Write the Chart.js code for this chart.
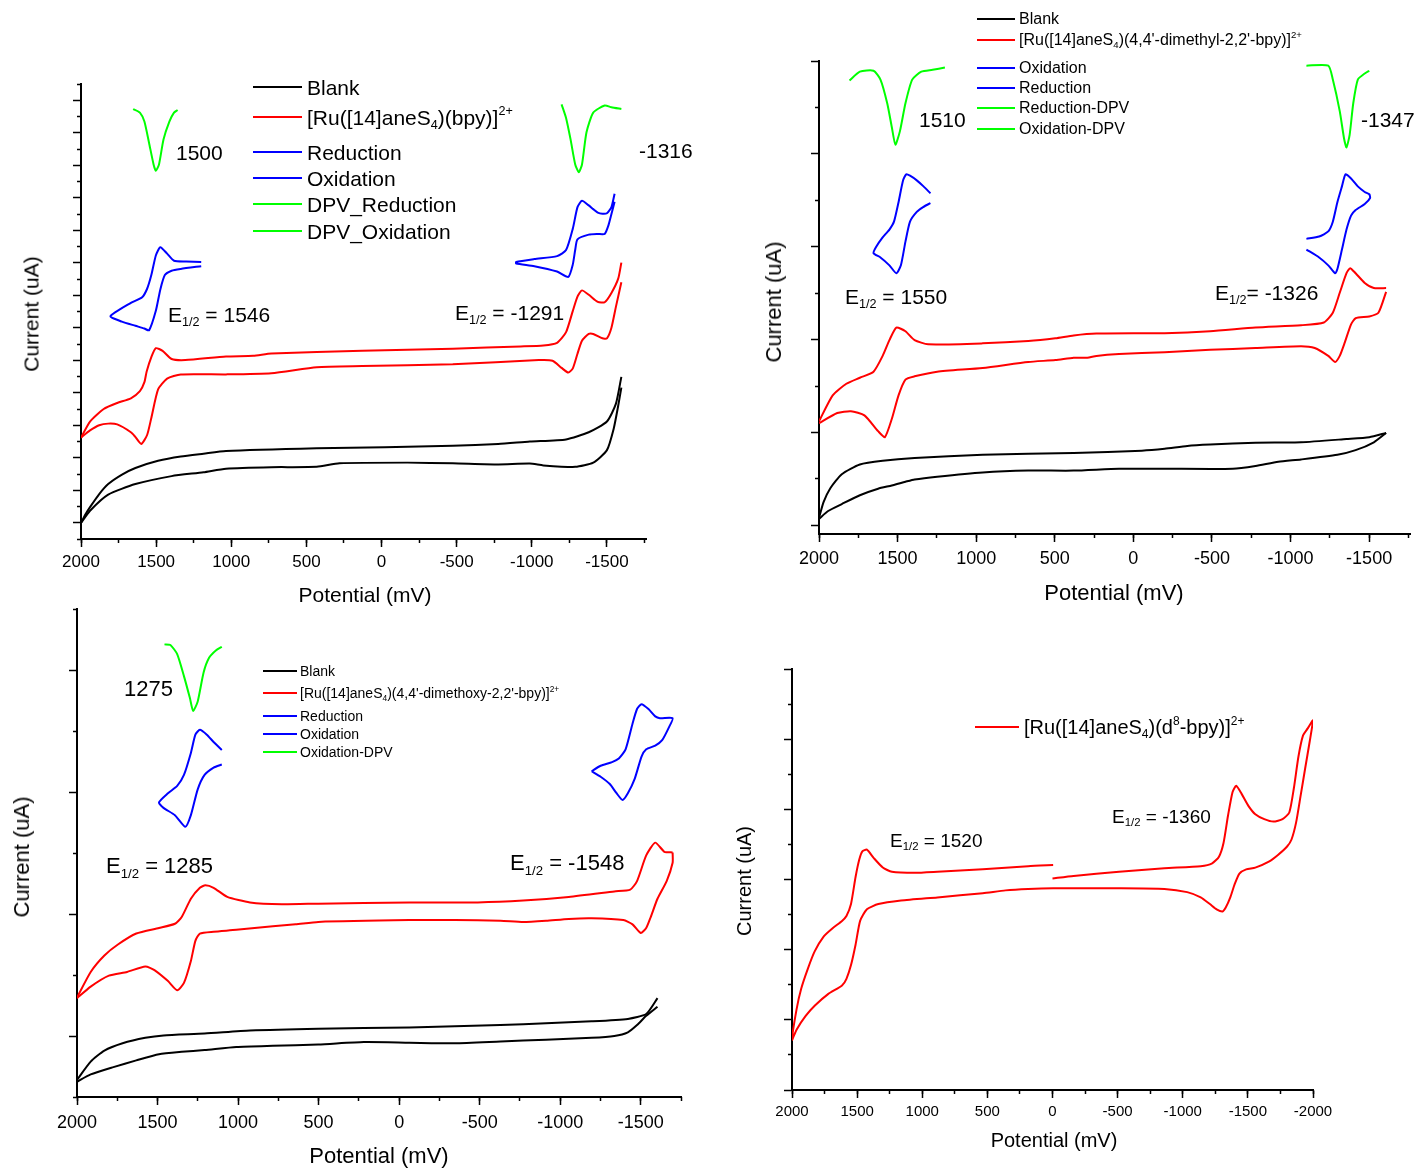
<!DOCTYPE html>
<html>
<head>
<meta charset="utf-8">
<title>Cyclic voltammograms</title>
<script src="https://cdn.jsdelivr.net/npm/chart.js@4.4.1/dist/chart.umd.min.js"></script>
<style>
  html, body { margin: 0; padding: 0; background: #fff; }
  body { width: 1420px; height: 1169px; position: relative; overflow: hidden;
         font-family: "Liberation Sans", Arial, sans-serif; color: #000; }
  canvas { position: absolute; }
  .t { position: absolute; white-space: nowrap; line-height: 1; transform: translateY(-50%); }
  .c { position: absolute; white-space: nowrap; line-height: 1; transform: translate(-50%, -50%); }
  .r { position: absolute; white-space: nowrap; line-height: 1; transform: translate(-50%, -50%) rotate(-90deg); }
  .ln { position: absolute; height: 0; border-top: 2.5px solid #000; transform: translateY(-50%); }
  sub, sup { font-size: 0.6em; line-height: 0; }
  sub { vertical-align: -0.35em; }
  sup { vertical-align: 0.75em; }
</style>
</head>
<body>
<canvas id="cvA"></canvas>
<canvas id="cvB"></canvas>
<canvas id="cvC"></canvas>
<canvas id="cvD"></canvas>

<!-- panel A texts -->
<div class="ln" style="left:253px;top:87px;width:49px;border-color:#000"></div>
<div class="ln" style="left:253px;top:117px;width:49px;border-color:#f00"></div>
<div class="ln" style="left:253px;top:152px;width:49px;border-color:#00f"></div>
<div class="ln" style="left:253px;top:178px;width:49px;border-color:#00f"></div>
<div class="ln" style="left:253px;top:204px;width:49px;border-color:#0f0"></div>
<div class="ln" style="left:253px;top:231px;width:49px;border-color:#0f0"></div>
<div class="t" style="left:307px;top:87px;font-size:21px">Blank</div>
<div class="t" style="left:307px;top:117px;font-size:21px">[Ru([14]aneS<sub>4</sub>)(bpy)]<sup>2+</sup></div>
<div class="t" style="left:307px;top:152px;font-size:21px">Reduction</div>
<div class="t" style="left:307px;top:178px;font-size:21px">Oxidation</div>
<div class="t" style="left:307px;top:204px;font-size:21px">DPV_Reduction</div>
<div class="t" style="left:307px;top:231px;font-size:21px">DPV_Oxidation</div>
<div class="t" style="left:176px;top:152px;font-size:21px">1500</div>
<div class="t" style="left:639px;top:150px;font-size:21px">-1316</div>
<div class="t" style="left:168px;top:314px;font-size:21px">E<sub>1/2</sub> = 1546</div>
<div class="t" style="left:455px;top:312px;font-size:21px">E<sub>1/2</sub> = -1291</div>
<div class="r" style="left:31px;top:314px;font-size:21px">Current (uA)</div>
<div class="c" style="left:365px;top:594px;font-size:21px">Potential (mV)</div>

<!-- panel B texts -->
<div class="ln" style="left:977px;top:19px;width:38px;border-width:2px;border-color:#000"></div>
<div class="ln" style="left:977px;top:40px;width:38px;border-width:2px;border-color:#f00"></div>
<div class="ln" style="left:977px;top:68px;width:38px;border-width:2px;border-color:#00f"></div>
<div class="ln" style="left:977px;top:88px;width:38px;border-width:2px;border-color:#00f"></div>
<div class="ln" style="left:977px;top:108px;width:38px;border-width:2px;border-color:#0f0"></div>
<div class="ln" style="left:977px;top:129px;width:38px;border-width:2px;border-color:#0f0"></div>
<div class="t" style="left:1019px;top:19px;font-size:16px">Blank</div>
<div class="t" style="left:1019px;top:40px;font-size:16px">[Ru([14]aneS<sub>4</sub>)(4,4'-dimethyl-2,2'-bpy)]<sup>2+</sup></div>
<div class="t" style="left:1019px;top:68px;font-size:16px">Oxidation</div>
<div class="t" style="left:1019px;top:88px;font-size:16px">Reduction</div>
<div class="t" style="left:1019px;top:108px;font-size:16px">Reduction-DPV</div>
<div class="t" style="left:1019px;top:129px;font-size:16px">Oxidation-DPV</div>
<div class="t" style="left:919px;top:119px;font-size:21px">1510</div>
<div class="t" style="left:1361px;top:119px;font-size:21px">-1347</div>
<div class="t" style="left:845px;top:296px;font-size:21px">E<sub>1/2</sub> = 1550</div>
<div class="t" style="left:1215px;top:292px;font-size:21px">E<sub>1/2</sub>= -1326</div>
<div class="r" style="left:774px;top:302px;font-size:22px">Current (uA)</div>
<div class="c" style="left:1114px;top:593px;font-size:22px">Potential (mV)</div>

<!-- panel C texts -->
<div class="ln" style="left:263px;top:671px;width:34px;border-width:2px;border-color:#000"></div>
<div class="ln" style="left:263px;top:693px;width:34px;border-width:2px;border-color:#f00"></div>
<div class="ln" style="left:263px;top:716px;width:34px;border-width:2px;border-color:#00f"></div>
<div class="ln" style="left:263px;top:734px;width:34px;border-width:2px;border-color:#00f"></div>
<div class="ln" style="left:263px;top:752px;width:34px;border-width:2px;border-color:#0f0"></div>
<div class="t" style="left:300px;top:671px;font-size:14px">Blank</div>
<div class="t" style="left:300px;top:693px;font-size:14px">[Ru([14]aneS<sub>4</sub>)(4,4'-dimethoxy-2,2'-bpy)]<sup>2+</sup></div>
<div class="t" style="left:300px;top:716px;font-size:14px">Reduction</div>
<div class="t" style="left:300px;top:734px;font-size:14px">Oxidation</div>
<div class="t" style="left:300px;top:752px;font-size:14px">Oxidation-DPV</div>
<div class="t" style="left:124px;top:689px;font-size:22px">1275</div>
<div class="t" style="left:106px;top:866px;font-size:22px">E<sub>1/2</sub> = 1285</div>
<div class="t" style="left:510px;top:863px;font-size:22px">E<sub>1/2</sub> = -1548</div>
<div class="r" style="left:22px;top:857px;font-size:22px">Current (uA)</div>
<div class="c" style="left:379px;top:1156px;font-size:22px">Potential (mV)</div>

<!-- panel D texts -->
<div class="ln" style="left:975px;top:727px;width:44px;border-color:#f00"></div>
<div class="t" style="left:1024px;top:727px;font-size:20px">[Ru([14]aneS<sub>4</sub>)(d<sup>8</sup>-bpy)]<sup>2+</sup></div>
<div class="t" style="left:890px;top:840px;font-size:19px">E<sub>1/2</sub> = 1520</div>
<div class="t" style="left:1112px;top:816px;font-size:19px">E<sub>1/2</sub> = -1360</div>
<div class="r" style="left:744px;top:881px;font-size:20px">Current (uA)</div>
<div class="c" style="left:1054px;top:1140px;font-size:20px">Potential (mV)</div>

<script>
// Four CV panels, potential axis reversed (2000 -> negative), current in tick units (no labels)

var FONT = '"Liberation Sans", Arial, sans-serif';
var BLACK = '#000000', RED = '#ff0000', BLUE = '#0000ff', GREEN = '#00ff00';

// x tick positions (mV)
var xMajorA = [2000, 1500, 1000, 500, 0, -500, -1000, -1500];
var xMinorA = [2000, 1750, 1500, 1250, 1000, 750, 500, 250, 0, -250, -500, -750, -1000, -1250, -1500, -1750];
var xMajorD = [2000, 1500, 1000, 500, 0, -500, -1000, -1500, -2000];
var xMinorD = [2000, 1750, 1500, 1250, 1000, 750, 500, 250, 0, -250, -500, -750, -1000, -1250, -1500, -1750, -2000];

// y tick positions (arbitrary current units)
var yMajorA = [1, 3, 5, 7, 9, 11, 13, 15, 17, 19, 21, 23, 25, 27];
var yMinorA = [0, 2, 4, 6, 8, 10, 12, 14, 16, 18, 20, 22, 24, 26, 28];
var yMajorB = [0, 2, 4, 6, 8, 10];
var yMinorB = [1, 3, 5, 7, 9];
var yMajorC = [1, 3, 5, 7];
var yMinorC = [0, 2, 4, 6, 8];
var yMajorD = [0, 2, 4, 6, 8, 10, 12];
var yMinorD = [1, 3, 5, 7, 9, 11];

// ---- panel A: [Ru([14]aneS4)(bpy)]2+ ----
var aBlankFwd = [[2000,0.99],[1970,1.52],[1940,1.96],[1880,2.75],[1819,3.38],[1730,3.95],[1638,4.37],[1487,4.81],[1336,5.08],[1185,5.25],[1035,5.41],[431,5.58],[-21,5.65],[-474,5.74],[-776,5.85],[-987,6.00],[-1228,6.13],[-1379,6.57],[-1500,7.23],[-1560,8.33],[-1596,9.98]];
var aBlankRev = [[-1596,9.32],[-1575,8.2],[-1545,6.79],[-1500,5.47],[-1409,4.70],[-1289,4.44],[-1077,4.53],[-987,4.64],[-776,4.59],[-474,4.66],[-172,4.70],[280,4.66],[431,4.44],[733,4.42],[1035,4.33],[1185,4.11],[1397,3.87],[1638,3.38],[1819,2.73],[1940,1.74],[2000,0.99]];
var aRedFwd = [[2000,6.24],[1940,7.23],[1849,8.0],[1759,8.37],[1668,8.66],[1608,9.10],[1578,9.65],[1563,10.31],[1532,11.19],[1502,11.74],[1457,11.58],[1397,11.08],[1306,11.01],[1035,11.23],[854,11.27],[733,11.41],[129,11.58],[-474,11.71],[-926,11.85],[-1077,11.91],[-1168,12.07],[-1228,12.73],[-1273,14.04],[-1304,14.92],[-1334,15.30],[-1379,15.03],[-1439,14.59],[-1485,14.57],[-1530,15.14],[-1575,16.02],[-1596,17.01]];
var aRedRev = [[-1596,15.80],[-1560,14.3],[-1530,13.0],[-1500,12.35],[-1470,12.35],[-1409,12.62],[-1379,12.62],[-1334,12.2],[-1304,11.4],[-1273,10.5],[-1243,10.24],[-1198,10.53],[-1138,10.97],[-1047,11.01],[-474,10.75],[129,10.64],[431,10.57],[733,10.20],[1035,10.13],[1336,10.13],[1427,9.87],[1487,9.21],[1532,7.45],[1560,6.4],[1599,5.85],[1640,6.3],[1668,6.57],[1759,7.05],[1819,7.1],[1879,7.0],[1940,6.68],[2000,6.24]];
var aOxid = [[1200,17.05],[1300,17.08],[1381,17.12],[1427,17.56],[1472,17.96],[1502,17.45],[1532,16.24],[1560,15.4],[1593,14.88],[1668,14.53],[1804,13.71],[1728,13.38],[1638,13.12],[1578,12.95],[1547,12.84],[1502,14.04],[1472,15.36],[1442,16.24],[1397,16.51],[1336,16.62],[1200,16.79]];
var aRedn = [[-1551,21.25],[-1530,20.42],[-1500,20.05],[-1470,20.02],[-1439,20.09],[-1409,20.3],[-1379,20.53],[-1334,20.81],[-1304,20.42],[-1273,19.10],[-1228,17.78],[-1168,17.41],[-1017,17.23],[-896,17.05],[-896,16.95],[-1017,16.79],[-1168,16.46],[-1243,16.13],[-1273,16.9],[-1289,17.8],[-1304,18.44],[-1379,18.73],[-1439,18.77],[-1485,18.77],[-1510,19.3],[-1530,20.0],[-1551,20.75]];
var aDpvOx = [[1653,26.46],[1608,26.24],[1578,25.69],[1547,24.37],[1517,23.05],[1502,22.66],[1481,23.05],[1451,24.59],[1412,25.69],[1381,26.24],[1357,26.40]];
var aDpvRed = [[-1198,26.75],[-1228,25.91],[-1258,24.59],[-1289,23.05],[-1313,22.57],[-1334,23.05],[-1364,25.03],[-1409,26.24],[-1485,26.68],[-1530,26.57],[-1596,26.46]];

// ---- panel B: 4,4'-dimethyl-bpy ----
var bBlankFwd = [[2000,0.16],[1971,0.50],[1928,0.80],[1855,1.10],[1740,1.31],[1595,1.39],[1392,1.45],[959,1.52],[380,1.56],[-54,1.61],[-199,1.65],[-343,1.71],[-488,1.74],[-777,1.78],[-1067,1.79],[-1356,1.86],[-1501,1.90],[-1608,1.99]];
var bBlankRev = [[-1608,1.99],[-1530,1.79],[-1414,1.62],[-1298,1.52],[-1067,1.42],[-922,1.37],[-777,1.28],[-633,1.22],[-199,1.22],[91,1.22],[380,1.18],[669,1.18],[959,1.14],[1248,1.05],[1392,0.99],[1450,0.94],[1537,0.86],[1624,0.79],[1740,0.65],[1855,0.46],[1942,0.31],[2000,0.14]];
var bRedFwd = [[2000,2.24],[1913,2.80],[1826,3.05],[1740,3.18],[1653,3.31],[1595,3.65],[1552,3.99],[1508,4.26],[1450,4.18],[1392,3.99],[1306,3.90],[959,3.92],[669,3.97],[496,4.03],[380,4.09],[235,4.13],[-199,4.14],[-488,4.18],[-777,4.26],[-1067,4.31],[-1212,4.37],[-1269,4.58],[-1313,5.01],[-1356,5.43],[-1379,5.54],[-1414,5.43],[-1472,5.22],[-1530,5.11],[-1608,5.11]];
var bRedRev = [[-1608,5.03],[-1559,4.58],[-1501,4.50],[-1414,4.46],[-1385,4.33],[-1341,3.90],[-1313,3.65],[-1284,3.52],[-1240,3.65],[-1154,3.82],[-1067,3.86],[-777,3.82],[-488,3.78],[-199,3.73],[91,3.69],[235,3.65],[293,3.61],[380,3.61],[496,3.56],[669,3.52],[959,3.39],[1248,3.31],[1392,3.21],[1450,3.14],[1494,2.80],[1537,2.29],[1581,1.90],[1624,2.03],[1711,2.37],[1797,2.46],[1884,2.42],[2000,2.20]];
var bOxid = [[1291,7.15],[1335,7.30],[1378,7.43],[1421,7.53],[1445,7.56],[1465,7.43],[1494,6.96],[1523,6.54],[1552,6.37],[1595,6.20],[1638,5.99],[1653,5.86],[1609,5.77],[1552,5.60],[1508,5.43],[1479,5.60],[1450,6.11],[1421,6.54],[1378,6.75],[1335,6.86],[1291,6.94]];
var bRedn = [[-1101,6.17],[-1182,6.22],[-1240,6.33],[-1269,6.54],[-1298,6.96],[-1327,7.30],[-1350,7.56],[-1385,7.47],[-1428,7.30],[-1472,7.18],[-1501,7.13],[-1506,7.05],[-1472,6.92],[-1414,6.79],[-1385,6.67],[-1356,6.37],[-1327,5.94],[-1298,5.52],[-1284,5.43],[-1240,5.60],[-1182,5.77],[-1101,5.94]];
var bDpvRed = [[1806,9.58],[1740,9.77],[1653,9.79],[1609,9.60],[1566,9.09],[1537,8.58],[1514,8.20],[1485,8.49],[1450,9.09],[1407,9.60],[1349,9.77],[1277,9.81],[1199,9.86]];
var bDpvOx = [[-1101,9.90],[-1240,9.90],[-1269,9.60],[-1313,8.92],[-1341,8.32],[-1356,8.14],[-1376,8.41],[-1399,9.09],[-1428,9.60],[-1472,9.73],[-1501,9.79]];

// ---- panel C: 4,4'-dimethoxy-bpy ----
var cBlankFwd = [[2000,0.28],[1915,0.58],[1830,0.76],[1717,0.88],[1576,0.97],[1463,1.01],[1208,1.04],[926,1.09],[502,1.12],[-64,1.14],[-629,1.18],[-912,1.21],[-1195,1.24],[-1420,1.28],[-1534,1.36],[-1604,1.62]];
var cBlankRev = [[-1604,1.48],[-1534,1.33],[-1477,1.18],[-1420,1.06],[-1336,1.00],[-1195,0.97],[-912,0.94],[-629,0.91],[-346,0.88],[-64,0.89],[219,0.90],[502,0.86],[784,0.84],[1011,0.82],[1208,0.77],[1350,0.74],[1491,0.70],[1632,0.60],[1774,0.49],[1915,0.37],[2000,0.25]];
var cRedFwd = [[2000,1.63],[1915,2.05],[1830,2.32],[1746,2.50],[1632,2.68],[1491,2.77],[1392,2.84],[1350,2.95],[1293,3.25],[1237,3.43],[1203,3.47],[1152,3.43],[1067,3.28],[926,3.19],[728,3.16],[502,3.17],[-64,3.19],[-488,3.19],[-770,3.22],[-1053,3.28],[-1336,3.37],[-1435,3.40],[-1477,3.54],[-1534,3.96],[-1590,4.17],[-1647,4.02],[-1698,4.01]];
var cRedRev = [[-1698,4.01],[-1698,3.84],[-1661,3.54],[-1604,3.25],[-1562,2.95],[-1534,2.77],[-1500,2.69],[-1449,2.83],[-1392,2.90],[-1195,2.93],[-1053,2.92],[-912,2.89],[-770,2.87],[-629,2.89],[-346,2.90],[-64,2.90],[502,2.87],[643,2.83],[784,2.80],[1011,2.74],[1152,2.71],[1237,2.68],[1265,2.56],[1293,2.23],[1336,1.87],[1378,1.75],[1435,1.90],[1519,2.08],[1576,2.14],[1689,2.05],[1802,1.99],[1915,1.81],[2000,1.62]];
var cOxid = [[1101,5.69],[1152,5.82],[1194,5.94],[1237,6.02],[1265,5.94],[1293,5.64],[1336,5.28],[1378,5.10],[1435,4.98],[1491,4.83],[1463,4.74],[1392,4.62],[1327,4.43],[1293,4.62],[1251,5.04],[1208,5.28],[1152,5.40],[1101,5.45]];
var cRedn = [[-1195,5.34],[-1251,5.43],[-1322,5.49],[-1364,5.55],[-1406,5.70],[-1449,6.12],[-1477,6.36],[-1505,6.44],[-1548,6.36],[-1590,6.24],[-1619,6.21],[-1698,6.21],[-1675,6.06],[-1633,5.85],[-1590,5.76],[-1534,5.70],[-1505,5.58],[-1463,5.22],[-1420,4.98],[-1387,4.87],[-1350,4.98],[-1308,5.13],[-1251,5.25],[-1195,5.34]];
var cDpvOx = [[1457,7.42],[1420,7.41],[1378,7.26],[1336,6.90],[1299,6.54],[1279,6.33],[1251,6.48],[1214,6.96],[1180,7.20],[1138,7.32],[1101,7.38]];

// ---- panel D: d8-bpy, one continuous scan starting at 0 mV ----
var dRed = [[0,6.03],[-162,6.10],[-511,6.22],[-859,6.32],[-1138,6.38],[-1226,6.46],[-1278,6.65],[-1313,7.04],[-1347,7.81],[-1382,8.49],[-1410,8.67],[-1452,8.44],[-1504,8.10],[-1557,7.86],[-1626,7.72],[-1696,7.65],[-1766,7.72],[-1818,7.91],[-1853,8.6],[-1888,9.5],[-1923,10.1],[-1958,10.3],[-2000,10.54],
  [-1975,9.94],[-1940,9.17],[-1905,8.39],[-1870,7.62],[-1835,7.14],[-1801,6.94],[-1731,6.70],[-1661,6.51],[-1557,6.34],[-1487,6.29],[-1435,6.17],[-1400,5.88],[-1365,5.49],[-1330,5.20],[-1306,5.09],[-1260,5.15],[-1208,5.30],[-1138,5.49],[-1034,5.64],[-859,5.73],[-511,5.75],[-5,5.75],[187,5.73],[361,5.69],[535,5.61],[884,5.49],[1163,5.40],[1337,5.30],[1425,5.15],[1477,4.82],[1512,4.14],[1547,3.56],[1582,3.17],[1616,2.98],[1721,2.74],[1826,2.40],[1895,2.11],[1965,1.72],[2000,1.43],
  [1965,2.30],[1930,2.88],[1878,3.46],[1826,3.95],[1756,4.38],[1686,4.62],[1616,4.82],[1582,4.96],[1547,5.30],[1512,6.07],[1484,6.56],[1460,6.80],[1425,6.85],[1372,6.61],[1303,6.34],[1233,6.22],[1059,6.19],[884,6.22],[535,6.29],[187,6.38],[-5,6.41]];

(function () {
  function pts(arr) {
    return arr.map(function (p) { return { x: p[0], y: p[1] }; });
  }

  // one axis; the *minor* copies have zero size and sit next to the chart area
  function axis(pos, range, ticks, len, labels, size, fontSize, pad, weight) {
    return {
      type: 'linear',
      position: pos,
      min: range[0],
      max: range[1],
      reverse: pos === 'bottom',
      weight: weight,
      afterBuildTicks: function (s) {
        s.ticks = ticks.map(function (v) { return { value: v }; });
      },
      afterFit: function (s) {
        if (pos === 'bottom') s.height = size; else s.width = size;
      },
      ticks: {
        display: labels,
        autoSkip: false,
        maxRotation: 0,
        minRotation: 0,
        padding: pad,
        color: '#000',
        font: { family: FONT, size: fontSize },
        callback: function (v) { return String(v); }
      },
      grid: {
        display: true,
        drawOnChartArea: false,
        drawTicks: true,
        tickLength: len,
        tickWidth: 1.5,
        tickColor: '#000'
      },
      border: { display: weight === 1, color: '#000', width: 2 }
    };
  }

  function panel(p) {
    var PL = 50, PT = 12, PR = 30, PB = 50;
    var cv = document.getElementById(p.id);
    var w = p.box.r - p.box.l + PL + PR;
    var h = p.box.b - p.box.t + PT + PB;
    cv.width = w; cv.height = h;
    cv.style.width = w + 'px'; cv.style.height = h + 'px';
    cv.style.left = (p.box.l - PL) + 'px';
    cv.style.top = (p.box.t - PT) + 'px';

    new Chart(cv, {
      type: 'scatter',
      data: {
        datasets: p.series.map(function (s) {
          return {
            label: s.label,
            data: pts(s.data),
            borderColor: s.color,
            backgroundColor: s.color,
            borderWidth: 2,
            showLine: true,
            pointRadius: 0,
            tension: 0.2,
            xAxisID: 'x',
            yAxisID: 'y'
          };
        })
      },
      options: {
        responsive: false,
        animation: false,
        devicePixelRatio: 1,
        events: [],
        layout: { padding: { left: 0, top: PT, right: PR, bottom: 0 } },
        plugins: { legend: { display: false }, tooltip: { enabled: false } },
        scales: {
          x: axis('bottom', p.xr, p.xMaj, 8, true, PB, p.font, p.pad, 1),
          xm: axis('bottom', p.xr, p.xMin, 4, false, 0, p.font, 0, 0),
          y: axis('left', p.yr, p.yMaj, 8, false, PL, p.font, 0, 1),
          ym: axis('left', p.yr, p.yMin, 4, false, 0, p.font, 0, 0)
        }
      }
    });
  }

  panel({
    id: 'cvA', box: { l: 81, t: 84, r: 646, b: 539 },
    xr: [-1760, 2000], yr: [0, 28],
    xMaj: xMajorA, xMin: xMinorA, yMaj: yMajorA, yMin: yMinorA, font: 17, pad: 5,
    series: [
      { label: 'Blank', data: aBlankFwd, color: BLACK },
      { label: 'Blank', data: aBlankRev, color: BLACK },
      { label: '[Ru([14]aneS4)(bpy)]2+', data: aRedFwd, color: RED },
      { label: '[Ru([14]aneS4)(bpy)]2+', data: aRedRev, color: RED },
      { label: 'Reduction', data: aRedn, color: BLUE },
      { label: 'Oxidation', data: aOxid, color: BLUE },
      { label: 'DPV_Reduction', data: aDpvRed, color: GREEN },
      { label: 'DPV_Oxidation', data: aDpvOx, color: GREEN }
    ]
  });

  panel({
    id: 'cvB', box: { l: 819, t: 61, r: 1410, b: 534 },
    xr: [-1760, 2000], yr: [-0.185, 10],
    xMaj: xMajorA, xMin: xMinorA, yMaj: yMajorB, yMin: yMinorB, font: 18, pad: 6,
    series: [
      { label: 'Blank', data: bBlankFwd, color: BLACK },
      { label: 'Blank', data: bBlankRev, color: BLACK },
      { label: '[Ru([14]aneS4)(4,4\'-dimethyl-2,2\'-bpy)]2+', data: bRedFwd, color: RED },
      { label: '[Ru([14]aneS4)(4,4\'-dimethyl-2,2\'-bpy)]2+', data: bRedRev, color: RED },
      { label: 'Oxidation', data: bOxid, color: BLUE },
      { label: 'Reduction', data: bRedn, color: BLUE },
      { label: 'Reduction-DPV', data: bDpvRed, color: GREEN },
      { label: 'Oxidation-DPV', data: bDpvOx, color: GREEN }
    ]
  });

  panel({
    id: 'cvC', box: { l: 77, t: 609, r: 681, b: 1097 },
    xr: [-1750, 2000], yr: [0, 8],
    xMaj: xMajorA, xMin: xMinorA, yMaj: yMajorC, yMin: yMinorC, font: 18, pad: 7,
    series: [
      { label: 'Blank', data: cBlankFwd, color: BLACK },
      { label: 'Blank', data: cBlankRev, color: BLACK },
      { label: '[Ru([14]aneS4)(4,4\'-dimethoxy-2,2\'-bpy)]2+', data: cRedFwd, color: RED },
      { label: '[Ru([14]aneS4)(4,4\'-dimethoxy-2,2\'-bpy)]2+', data: cRedRev, color: RED },
      { label: 'Reduction', data: cRedn, color: BLUE },
      { label: 'Oxidation', data: cOxid, color: BLUE },
      { label: 'Oxidation-DPV', data: cDpvOx, color: GREEN }
    ]
  });

  panel({
    id: 'cvD', box: { l: 792, t: 669, r: 1313, b: 1090 },
    xr: [-2000, 2000], yr: [0, 12],
    xMaj: xMajorD, xMin: xMinorD, yMaj: yMajorD, yMin: yMinorD, font: 15, pad: 5,
    series: [
      { label: '[Ru([14]aneS4)(d8-bpy)]2+', data: dRed, color: RED }
    ]
  });
})();
</script>
</body>
</html>
